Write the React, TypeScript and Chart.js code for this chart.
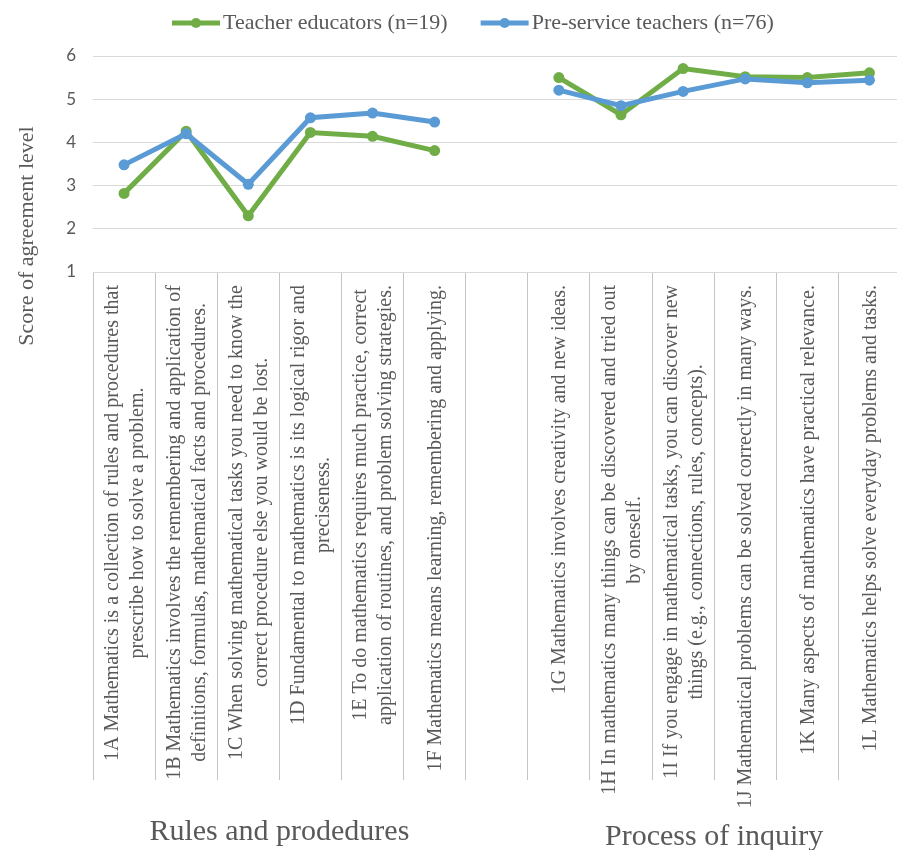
import React, { useEffect, useRef } from "react";
import { Chart, registerables } from "chart.js";

Chart.register(...registerables);

// ---------- data ----------
const categoryLabels: string[][] = [
  ["1A Mathematics is a collection of rules and procedures that", "prescribe how to solve a problem."],
  ["1B Mathematics involves the remembering and application of", "definitions, formulas, mathematical facts and procedures."],
  ["1C When solving mathematical tasks you need to know the", "correct procedure else you would be lost."],
  ["1D Fundamental to mathematics is its logical rigor and", "preciseness."],
  ["1E To do mathematics requires much practice, correct", "application of routines, and problem solving strategies."],
  ["1F Mathematics means learning, remembering and applying."],
  [""],
  ["1G Mathematics involves creativity and new ideas."],
  ["1H In mathematics many things can be discovered and tried out", "by oneself."],
  ["1I If you engage in mathematical tasks, you can discover new", "things (e.g., connections, rules, concepts)."],
  ["1J Mathematical problems can be solved correctly in many ways."],
  ["1K Many aspects of mathematics have practical relevance."],
  ["1L Mathematics helps solve everyday problems and tasks."],
];

const teacherEducators: (number | null)[] = [2.82, 4.26, 2.3, 4.23, 4.14, 3.81, null, 5.5, 4.64, 5.71, 5.52, 5.5, 5.61];
const preServiceTeachers: (number | null)[] = [3.48, 4.2, 3.03, 4.57, 4.68, 4.47, null, 5.21, 4.85, 5.18, 5.47, 5.38, 5.44];

const seriesNames = ["Teacher educators (n=19)", "Pre-service teachers (n=76)"];
const seriesColors = ["#70AD47", "#5B9BD5"];

const yTicks = [1, 2, 3, 4, 5, 6];
const yTitle = "Score of agreement level";

const groupNames = ["Rules and prodedures", "Process of inquiry"];
const groupRanges: [number, number][] = [
  [0, 5],
  [7, 12],
];

// ---------- style ----------
const TEXT = "#595959";
const SERIF = '"Liberation Serif", "Times New Roman", serif';

const decorPlugin = {
  id: "decor",
  afterDraw(chart: any) {
    const ctx: CanvasRenderingContext2D = chart.ctx;
    const xs = chart.scales.x;
    const area = chart.chartArea;
    ctx.save();
    ctx.fillStyle = TEXT;

    // category labels (rotated, lines centred on each other)
    ctx.font = `20px ${SERIF}`;
    const labels = chart.data.labels as string[][];
    labels.forEach((lines, i) => {
      const px = xs.getPixelForValue(i);
      const maxW = Math.max(0, ...lines.map((l) => ctx.measureText(l).width));
      const n = lines.length;
      lines.forEach((line, j) => {
        const cx = px + 1 + (j - (n - 1) / 2) * 25;
        const cy = area.bottom + 13 + maxW / 2;
        ctx.save();
        ctx.translate(cx, cy);
        ctx.rotate(-Math.PI / 2);
        ctx.textAlign = "center";
        ctx.textBaseline = "middle";
        ctx.fillText(line, 0, 0);
        ctx.restore();
      });
    });

    // group labels
    ctx.font = `30px ${SERIF}`;
    ctx.textAlign = "center";
    ctx.textBaseline = "alphabetic";
    const groupBaselines = [840, 845];
    groupNames.forEach((g, k) => {
      const [a, b] = groupRanges[k];
      const cx = (xs.getPixelForValue(a) + xs.getPixelForValue(b)) / 2;
      ctx.fillText(g, cx, groupBaselines[k]);
    });

    // y axis title
    ctx.save();
    ctx.font = `22px ${SERIF}`;
    ctx.translate(27, 236);
    ctx.rotate(-Math.PI / 2);
    ctx.textAlign = "center";
    ctx.textBaseline = "middle";
    ctx.fillText(yTitle, 0, 0);
    ctx.restore();

    // legend
    ctx.font = `22px ${SERIF}`;
    ctx.textAlign = "left";
    ctx.textBaseline = "middle";
    let lx = 172;
    const ly = 23;
    chart.data.datasets.forEach((ds: any) => {
      ctx.strokeStyle = ds.borderColor;
      ctx.lineWidth = 5;
      ctx.lineCap = "butt";
      ctx.beginPath();
      ctx.moveTo(lx, ly);
      ctx.lineTo(lx + 48, ly);
      ctx.stroke();
      ctx.fillStyle = ds.borderColor;
      ctx.beginPath();
      ctx.arc(lx + 24, ly, 5, 0, Math.PI * 2);
      ctx.fill();
      ctx.fillStyle = TEXT;
      ctx.fillText(ds.label, lx + 51, ly);
      lx += 51 + ctx.measureText(ds.label).width + 33;
    });

    ctx.restore();
  },
};

export default function App() {
  const canvasRef = useRef<HTMLCanvasElement | null>(null);

  useEffect(() => {
    const canvas = canvasRef.current;
    if (!canvas) return;
    const seriesData = [teacherEducators, preServiceTeachers];
    const chart = new Chart(canvas, {
      type: "line",
      data: {
        labels: categoryLabels as any,
        datasets: seriesNames.map((name, k) => ({
          label: name,
          data: seriesData[k],
          borderColor: seriesColors[k],
          backgroundColor: seriesColors[k],
          borderWidth: 5,
          pointRadius: 5.5,
          pointBackgroundColor: seriesColors[k],
          pointBorderColor: seriesColors[k],
          pointBorderWidth: 0,
          tension: 0,
          spanGaps: false,
          order: k === 0 ? 1 : 0,
        })),
      },
      options: {
        responsive: false,
        animation: false,
        events: [],
        layout: { padding: { top: 56, left: 0, right: 1, bottom: 0 } },
        plugins: {
          legend: { display: false },
          tooltip: { enabled: false },
        },
        scales: {
          x: {
            type: "category",
            offset: true,
            grid: {
              display: true,
              offset: true,
              drawOnChartArea: false,
              drawTicks: true,
              tickLength: 508,
              tickColor: "#c4c4c4",
              color: "#c4c4c4",
              lineWidth: 1,
            },
            border: { display: true, color: "#d9d9d9", width: 1 },
            ticks: { display: false, autoSkip: false },
            afterFit: (s: any) => {
              s.height = 578;
            },
          },
          y: {
            min: yTicks[0],
            max: yTicks[yTicks.length - 1],
            afterBuildTicks: (s: any) => {
              s.ticks = yTicks.map((v) => ({ value: v }));
            },
            ticks: {
              color: TEXT,
              font: { family: "Lato, 'Open Sans', sans-serif", size: 17 },
              padding: 17,
            },
            grid: { color: "#d9d9d9", drawTicks: false, lineWidth: 1 },
            border: { display: false },
            afterFit: (s: any) => {
              s.width = 93;
            },
          },
        },
      },
      plugins: [decorPlugin],
    });
    return () => chart.destroy();
  }, []);

  return (
    <div style={{ position: "absolute", left: 0, top: 0, width: 897, height: 850, overflow: "hidden", background: "#fff" }}>
      <canvas ref={canvasRef} width={906} height={850} style={{ display: "block", width: 906, height: 850 }} />
    </div>
  );
}
